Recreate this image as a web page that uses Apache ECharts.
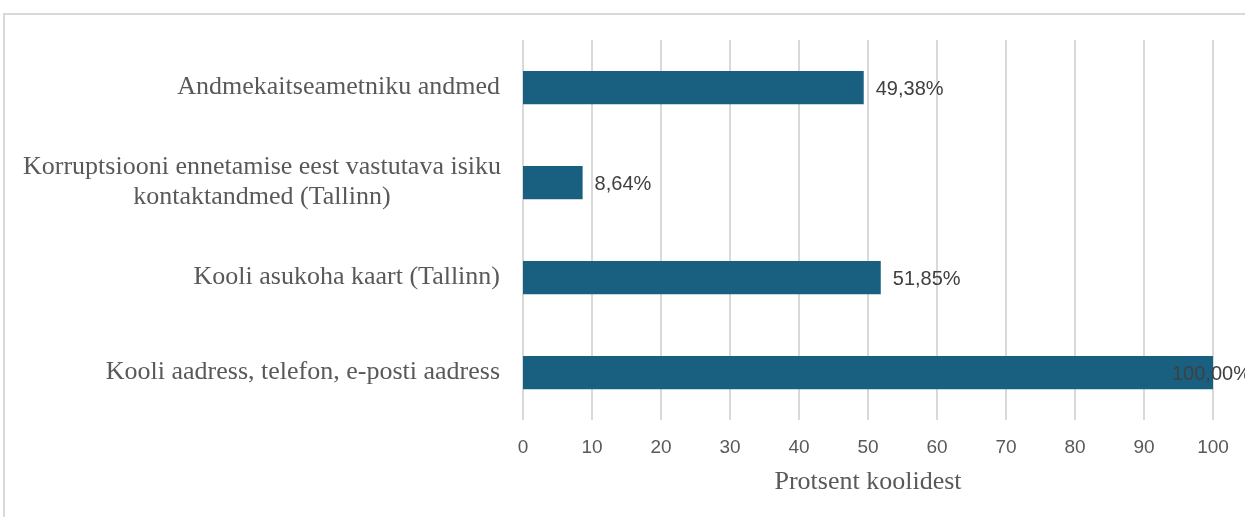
<!DOCTYPE html>
<html>
<head>
<meta charset="utf-8">
<script src="https://cdn.jsdelivr.net/npm/echarts@6/dist/echarts.min.js"></script>
<style>html,body{margin:0;padding:0;background:#fff}#c{width:1245px;height:517px}</style>
</head>
<body>
<div id="c"></div>
<script>
const categories = [
  "Kooli aadress, telefon, e-posti aadress",
  "Kooli asukoha kaart (Tallinn)",
  "Korruptsiooni ennetamise eest vastutava isiku\nkontaktandmed (Tallinn)",
  "Andmekaitseametniku andmed"
];
const values = [100.00, 51.85, 8.64, 49.38];
const xTicks = [0, 10, 20, 30, 40, 50, 60, 70, 80, 90, 100];
const axisTitle = "Protsent koolidest";

const chart = echarts.init(document.getElementById('c'));
chart.setOption({
  animation: false,
  graphic: [{
    type: 'rect', silent: true,
    shape: { x: 4, y: 14, width: 1400, height: 700 },
    style: { fill: 'none', stroke: '#d9d9d9', lineWidth: 2 }
  }],
  grid: { left: 523, right: 32, top: 40, bottom: 97 },
  xAxis: {
    type: 'value', min: xTicks[0], max: xTicks[xTicks.length - 1], interval: 10,
    name: axisTitle, nameLocation: 'middle', nameGap: 49,
    nameTextStyle: { fontFamily: 'Liberation Serif', fontSize: 26, color: '#595959' },
    axisLine: { show: false }, axisTick: { show: false },
    axisLabel: { fontFamily: 'Liberation Sans', fontSize: 19, color: '#595959', margin: 18 },
    splitLine: { show: true, lineStyle: { color: '#d9d9d9', width: 2 } }
  },
  yAxis: {
    type: 'category', data: categories,
    axisLine: { show: false }, axisTick: { show: false },
    axisLabel: {
      margin: 23, fontFamily: 'Liberation Serif', fontSize: 26, color: '#595959', lineHeight: 30,
      formatter: function (v) { return v.indexOf('\n') >= 0 ? '{c|' + v + '}' : v; },
      rich: { c: { width: 476, align: 'center', fontFamily: 'Liberation Serif', fontSize: 26, color: '#595959', lineHeight: 30 } }
    }
  },
  series: [{
    type: 'bar',
    barWidth: '35%',
    itemStyle: { color: '#185f80' },
    label: {
      show: true, position: 'right', distance: 12, offset: [0, 2],
      fontFamily: 'Liberation Sans', fontSize: 20, color: '#404040',
      formatter: function (p) { return p.value.toFixed(2).replace('.', ',') + '%'; }
    },
    data: values.map(function (v) {
      return v >= 100 ? { value: v, label: { offset: [-53, 2] } } : v;
    })
  }]
});
</script>
</body>
</html>
